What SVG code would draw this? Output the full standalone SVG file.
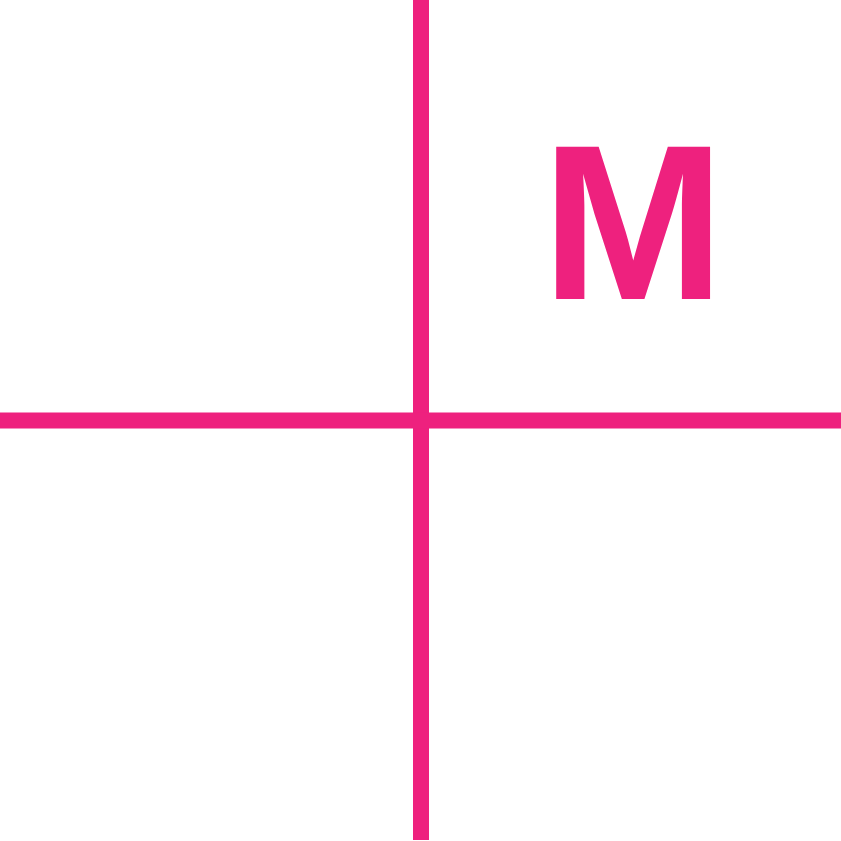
<svg xmlns="http://www.w3.org/2000/svg" width="841" height="841" viewBox="0 0 841 841">
<style>
.ax{stroke:#EE217E;stroke-width:16;fill:none}
.lbl{font-family:"Liberation Sans",Arial,sans-serif;font-weight:bold;font-size:220px;fill:#EE217E}
</style>
<rect width="841" height="841" fill="#fff"/>
<g id="connectors">
<line class="ax" x1="421" y1="0" x2="421" y2="840"/>
<line class="ax" x1="0" y1="420.5" x2="841" y2="420.5"/>
</g>
<g id="label-M">
<text class="lbl" transform="translate(541.5,298.5) scale(1,1)" x="0" y="0">M</text>
</g>
</svg>
